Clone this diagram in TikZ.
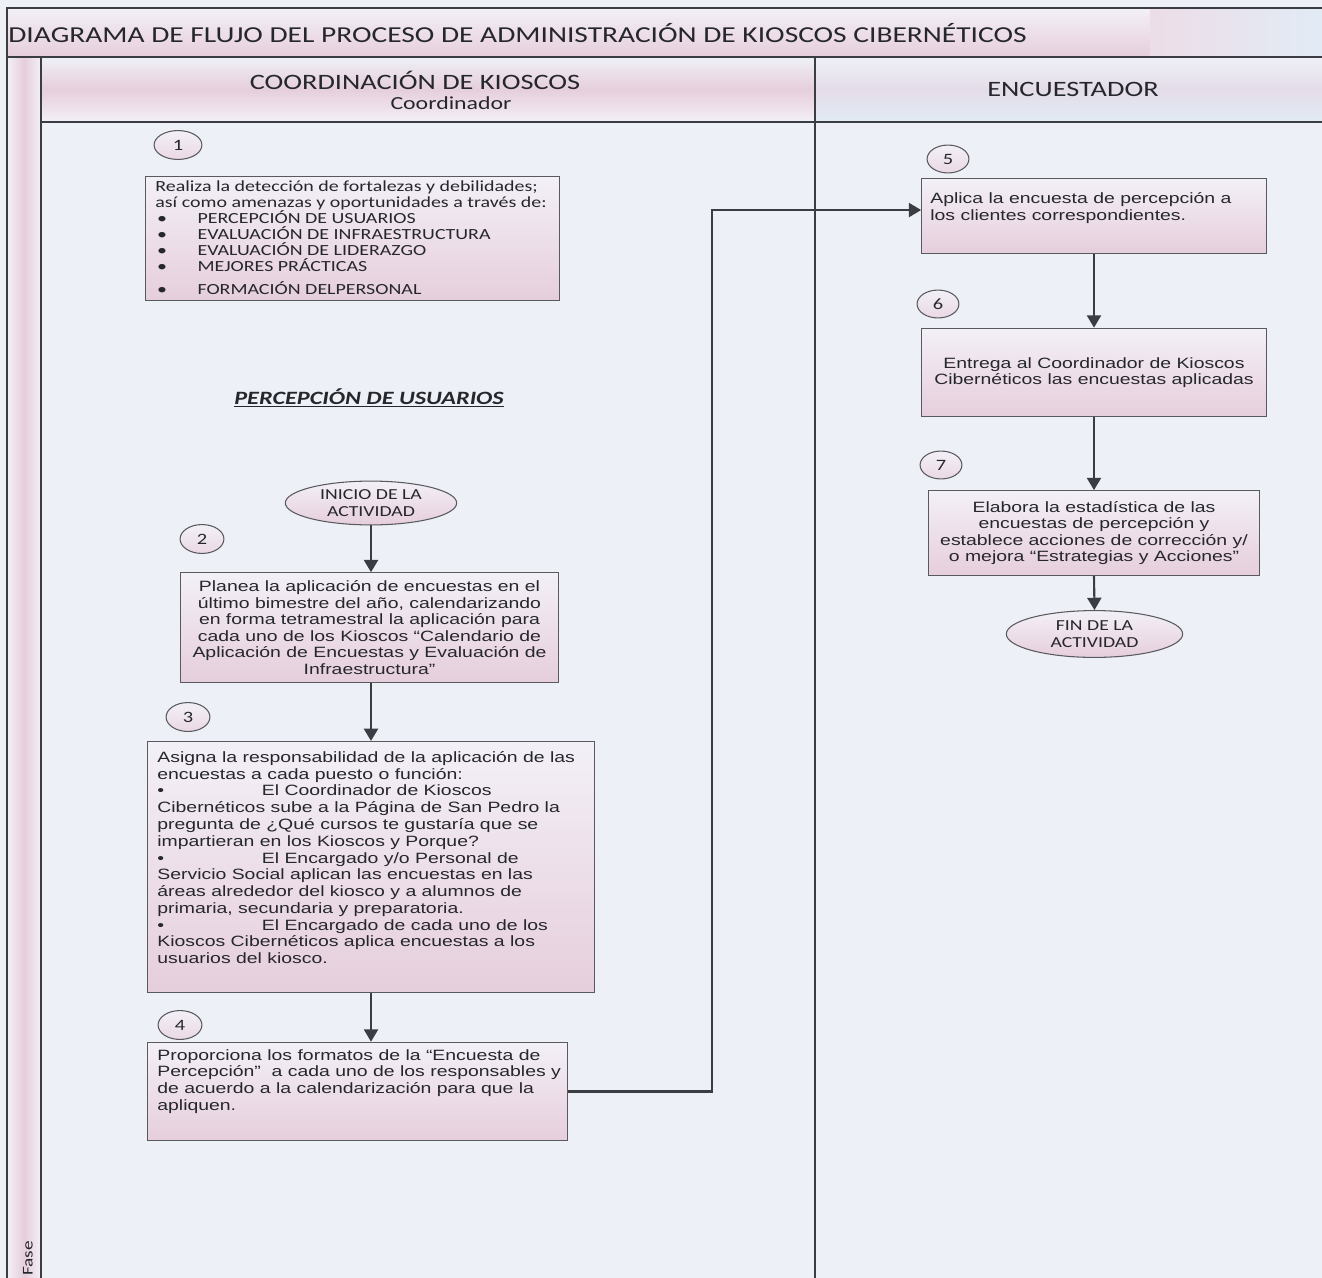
\documentclass[tikz,border=0pt]{standalone}
\usepackage{fontspec}
\setmainfont{Carlito}
\newfontfamily\calw[FakeStretch=1.29]{Carlito}
\newfontfamily\ariw[FakeStretch=1.30]{Liberation Sans}
\usetikzlibrary{arrows.meta,shapes.geometric}

\definecolor{paper}{HTML}{EEF0F7}
\definecolor{rule}{HTML}{3A3D42}
\definecolor{ink}{HTML}{26272C}
\definecolor{rose}{HTML}{E6CEDC}
\definecolor{roselt}{HTML}{F3F0F7}
\definecolor{skylt}{HTML}{E2EBF5}

\newlength{\unitpx}
\setlength{\unitpx}{0.567pt}

\tikzset{
  frame/.style={draw=rule, line width=1.1pt},
  stepbox/.style={draw=rule!85, line width=0.6pt, rectangle, inner sep=0pt,
    top color=roselt, bottom color=rose, text=ink},
  boxtext/.style={anchor=north west, inner sep=0pt, align=left, text=ink,
    font=\ariw\fontsize{8.5}{9.55}\selectfont},
  ctrtext/.style={align=center, font=\ariw\fontsize{8.5}{9.4}\selectfont},
  numtag/.style={ellipse, draw=rule!85, line width=0.6pt, inner sep=0pt,
    minimum width=44\unitpx, minimum height=29\unitpx,
    top color=roselt, bottom color=rose!70!roselt, text=ink,
    font=\calw\fontsize{9}{10}\selectfont},
  terminal/.style={ellipse, draw=rule!85, line width=0.6pt, inner sep=0pt,
    align=center, top color=roselt, bottom color=rose, text=ink,
    font=\calw\fontsize{8.7}{10}\selectfont},
  heading/.style={inner sep=0pt, align=center, text=ink,
    font=\calw\fontsize{12.5}{12.5}\selectfont},
  flow/.style={draw=rule, line width=1.2pt, -{Triangle[width=8pt,length=7pt]}},
}

\begin{document}
\begin{tikzpicture}[x=0.02cm, y=-0.02cm]
% page and bounding box
\fill[paper] (0,0) rectangle (1322,1278);
\useasboundingbox (0,0) rectangle (1322,1278);

% title band
\shade[top color=roselt, bottom color=rose] (7,8) rectangle (1150,57);
\shade[left color=rose!55!roselt, right color=skylt] (1150,8) rectangle (1322,57);
% lane strip
\shade[left color=roselt, right color=roselt, middle color=rose] (7,57) rectangle (41,1278);
% header cells
\shade[top color=paper, bottom color=roselt, middle color=rose] (41,57) rectangle (815,122);
\shade[top color=paper, bottom color=skylt, middle color=rose!50!skylt] (815,57) rectangle (1322,122);

% frame lines
\draw[frame] (7,1278) -- (7,8) -- (1322,8);
\draw[frame] (7,57) -- (1322,57);
\draw[frame] (41,57) -- (41,1278);
\draw[frame] (41,122) -- (1322,122);
\draw[frame] (815,57) -- (815,1278);

% titles
\node[anchor=west, inner sep=0pt, text=ink, font=\calw\fontsize{13}{14}\selectfont] (title) at (8,33)
  {DIAGRAMA DE FLUJO DEL PROCESO DE ADMINISTRACIÓN DE KIOSCOS CIBERNÉTICOS};
\node[heading] (lane1) at (415,80) {COORDINACIÓN DE KIOSCOS};
\node[heading, font=\calw\fontsize{10.5}{12.5}\selectfont] (lane1b) at (451,103) {Coordinador};
\node[heading] (lane2) at (1073,89) {ENCUESTADOR};
\node[rotate=90, anchor=west, inner sep=0pt, text=ink, font=\calw\fontsize{8.5}{9}\selectfont] (fase) at (28,1276)
  {Fase};

% ---------- Coordinación de Kioscos ----------
\node[numtag, minimum width=48\unitpx] (n1) at (178,145) {1};
\node[stepbox, minimum width=415\unitpx, minimum height=125\unitpx] (b1) at (352.5,238.5) {};
\node[anchor=north west, inner sep=0pt, align=left, text=ink,
      font=\calw\fontsize{8.8}{9.1}\selectfont] (t1) at (155,180)
  {Realiza la detección de fortalezas y debilidades;\\
   así como amenazas y oportunidades a través de:\\
   \hspace*{1pt}\makebox[23pt][l]{•}PERCEPCIÓN DE USUARIOS\\
   \hspace*{1pt}\makebox[23pt][l]{•}EVALUACIÓN DE INFRAESTRUCTURA\\
   \hspace*{1pt}\makebox[23pt][l]{•}EVALUACIÓN DE LIDERAZGO\\
   \hspace*{1pt}\makebox[23pt][l]{•}MEJORES PRÁCTICAS\\[4pt]
   \hspace*{1pt}\makebox[23pt][l]{•}FORMACIÓN DELPERSONAL};

\node[inner sep=0pt, text=ink, font=\calw\fontsize{10.7}{11}\selectfont\bfseries\itshape] (sect) at (369,398)
  {\underline{PERCEPCIÓN DE USUARIOS}};

\node[terminal, minimum width=172\unitpx, minimum height=44\unitpx] (start) at (371,503)
  {INICIO DE LA\\ACTIVIDAD};

\node[numtag] (n2) at (202,539) {2};
\node[stepbox, minimum width=379\unitpx, minimum height=110\unitpx, ctrtext] (b2) at (369.5,627.5)
  {Planea la aplicación de encuestas en el\\
   último bimestre del año, calendarizando\\
   en forma tetramestral la aplicación para\\
   cada uno de los Kioscos “Calendario de\\
   Aplicación de Encuestas y Evaluación de\\
   Infraestructura”};

\node[numtag] (n3) at (188,717) {3};
\node[stepbox, minimum width=448\unitpx, minimum height=252\unitpx] (b3) at (371,867) {};
\node[boxtext] (t3) at (157,751)
  {Asigna la responsabilidad de la aplicación de las\\
   encuestas a cada puesto o función:\\
   \makebox[59.5pt][l]{•}El Coordinador de Kioscos\\
   Cibernéticos sube a la Página de San Pedro la\\
   pregunta de ¿Qué cursos te gustaría que se\\
   impartieran en los Kioscos y Porque?\\
   \makebox[59.5pt][l]{•}El Encargado y/o Personal de\\
   Servicio Social aplican las encuestas en las\\
   áreas alrededor del kiosco y a alumnos de\\
   primaria, secundaria y preparatoria.\\
   \makebox[59.5pt][l]{•}El Encargado de cada uno de los\\
   Kioscos Cibernéticos aplica encuestas a los\\
   usuarios del kiosco.};

\node[numtag] (n4) at (180,1025) {4};
\node[stepbox, minimum width=421\unitpx, minimum height=99\unitpx] (b4) at (357.5,1091.5) {};
\node[boxtext] (t4) at (157,1049)
  {Proporciona los formatos de la “Encuesta de\\
   Percepción”\ \ a cada uno de los responsables y\\
   de acuerdo a la calendarización para que la\\
   apliquen.};

% ---------- Encuestador ----------
\node[numtag, minimum width=42\unitpx, minimum height=28\unitpx] (n5) at (948,159) {5};
\node[stepbox, minimum width=346\unitpx, minimum height=75\unitpx] (b5) at (1094,216) {};
\node[boxtext] (t5) at (930,192)
  {Aplica la encuesta de percepción a\\
   los clientes correspondientes.};

\node[numtag, minimum width=42\unitpx, minimum height=28\unitpx] (n6) at (938,304) {6};
\node[stepbox, minimum width=346\unitpx, minimum height=89\unitpx, ctrtext] (b6) at (1094,372.5)
  {Entrega al Coordinador de Kioscos\\
   Cibernéticos las encuestas aplicadas};

\node[numtag, minimum width=42\unitpx, minimum height=28\unitpx] (n7) at (941,465) {7};
\node[stepbox, minimum width=332\unitpx, minimum height=85\unitpx, ctrtext] (b7) at (1094,533)
  {Elabora la estadística de las\\
   encuestas de percepción y\\
   establece acciones de corrección y/\\
   o mejora “Estrategias y Acciones”};

\node[terminal, minimum width=177\unitpx, minimum height=47\unitpx] (stop) at (1094.5,634)
  {FIN DE LA\\ACTIVIDAD};

% ---------- connectors ----------
\coordinate (jog) at (712,0);
\coordinate (entry) at ([yshift=3.4pt]b5.west);
\draw[flow] (start.south) -- (start.south |- b2.north);
\draw[flow] (start.south |- b2.south) -- (start.south |- b3.north);
\draw[flow] (start.south |- b3.south) -- (start.south |- b4.north);
\draw[flow] (b4.east) -- (b4.east -| jog) -- (jog |- entry) -- (entry);
\draw[flow] (b5.south) -- (b6.north);
\draw[flow] (b6.south) -- (b7.north);
\draw[flow] (b7.south) -- (stop.north);
\end{tikzpicture}
\end{document}
